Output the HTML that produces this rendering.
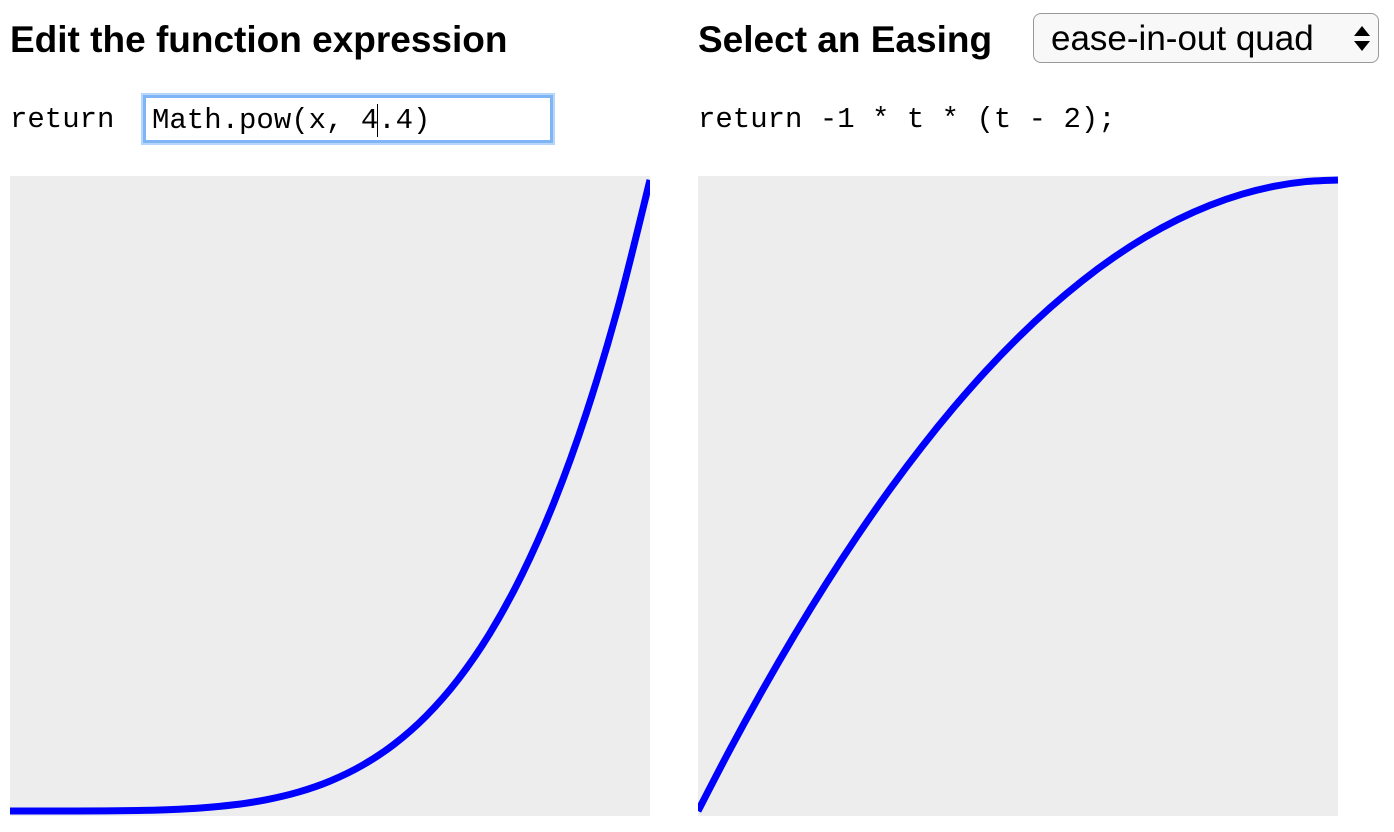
<!DOCTYPE html>
<html><head><meta charset="utf-8"><style>
body{margin:0;width:1394px;height:832px;background:#fff;position:relative;overflow:hidden;font-family:"Liberation Sans",sans-serif}
.h{position:absolute;top:19px;font-weight:bold;font-size:37px;color:#000;margin:0}
.code{position:absolute;top:103px;font-family:"Liberation Mono",monospace;font-size:29px;color:#000}
#inp{position:absolute;left:143px;top:95px;width:404px;height:42px;border:3px solid #7fb4f5;box-shadow:0 0 0 2px #b7d6fb;background:#fff;box-sizing:content-box}
#inp span{position:absolute;left:6px;top:6px;font-family:"Liberation Mono",monospace;font-size:29px}
#sel{position:absolute;left:1033px;top:13px;width:346px;height:50px;border:1.5px solid #999;border-radius:8px;background:#f8f8f8;box-sizing:border-box}
#sel span{position:absolute;left:17px;top:5px;font-size:35px}
svg{position:absolute;top:176px}
</style></head><body>
<h1 class="h" style="left:10px">Edit the function expression</h1>
<h1 class="h" style="left:698px">Select an Easing</h1>
<div id="sel"><span>ease-in-out quad</span>
<svg style="position:absolute;left:320px;top:12px" width="16" height="26"><polygon points="8,0 16,10 0,10" fill="#000"/><polygon points="0,15 16,15 8,25" fill="#000"/></svg></div>
<div class="code" style="left:10px">return</div>
<div id="inp"><span>Math.pow(x, 4<span style="position:static;border-left:1.5px solid #000;margin-left:-1px"></span>.4)</span></div>
<div class="code" style="left:698px">return -1 * t * (t - 2);</div>
<svg id="c1" style="left:10px" width="640" height="640"></svg>
<svg id="c2" style="left:698px" width="640" height="640"></svg>
<script>
const xs=[0,0.05,0.1,0.15,0.2,0.25,0.3,0.35,0.4,0.45,0.5,0.55,0.6,0.65,0.7,0.75,0.8,0.85,0.9,0.95,1];
const fnValues=[0,0,0.00004,0.00024,0.00084,0.00224,0.005,0.00986,0.01774,0.0298,0.0474,0.0721,0.1057,0.1503,0.2082,0.282,0.3747,0.489,0.629,0.798,1];
const easeValues=[0,0.0975,0.19,0.2775,0.36,0.4375,0.51,0.5775,0.64,0.6975,0.75,0.7975,0.84,0.8775,0.91,0.9375,0.96,0.9775,0.99,0.9975,1];
const NS='http://www.w3.org/2000/svg';
function sx(v){return v*640;}
function sy(v){return 635-v*631;}
function draw(id,vals,name){
 const svg=document.getElementById(id);
 const bg=document.createElementNS(NS,'rect');
 
 
 bg.setAttribute('width',640);bg.setAttribute('height',640);bg.setAttribute('fill','#ededed');
 svg.appendChild(bg);
 const p=xs.map((x,i)=>[sx(x),sy(vals[i])]);
 let d='M'+p[0][0]+','+p[0][1];
 for(let i=0;i<p.length-1;i++){
  const p0=p[Math.max(0,i-1)],p1=p[i],p2=p[i+1],p3=p[Math.min(p.length-1,i+2)];
  d+='C'+(p1[0]+(p2[0]-p0[0])/6)+','+(p1[1]+(p2[1]-p0[1])/6)+' '+(p2[0]-(p3[0]-p1[0])/6)+','+(p2[1]-(p3[1]-p1[1])/6)+' '+p2[0]+','+p2[1];
 }
 const path=document.createElementNS(NS,'path');
 
 
 path.setAttribute('d',d);path.setAttribute('fill','none');path.setAttribute('stroke','#0000ff');path.setAttribute('stroke-width','7');
 svg.appendChild(path);
}
draw('c1',fnValues,'function-curve');
draw('c2',easeValues,'easing-curve');
</script>
</body></html>
